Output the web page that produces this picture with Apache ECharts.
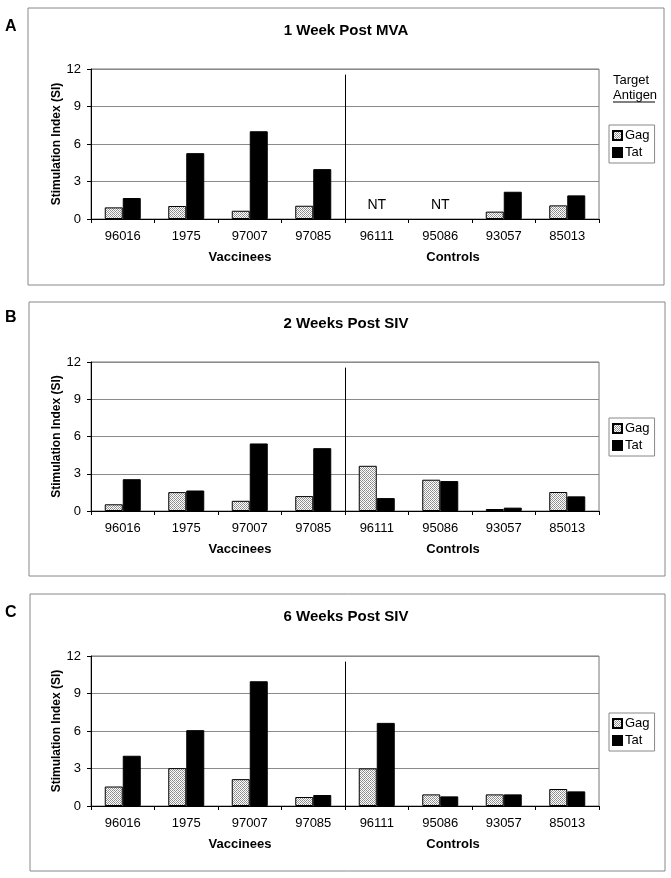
<!DOCTYPE html>
<html><head><meta charset="utf-8">
<script src="https://cdn.jsdelivr.net/npm/echarts@6/dist/echarts.min.js"></script>
<style>html,body{margin:0;padding:0;background:#fff}#c{width:671px;height:878px}</style>
</head><body><div id="c"></div>
<script>
const categories = ['96016','1975','97007','97085','96111','95086','93057','85013'];
const yTicks = [0, 3, 6, 9, 12];
const panelLetters = ['A','B','C'];
const panelTitles = ['1 Week Post MVA','2 Weeks Post SIV','6 Weeks Post SIV'];
const seriesNames = ['Gag','Tat'];
const groupNames = ['Vaccinees','Controls'];
const gagA = [0.93, 1.04, 0.66, 1.06, null, null, 0.59, 1.09];
const tatA = [1.68, 5.27, 7.02, 3.99, null, null, 2.18, 1.89];
const gagB = [0.54, 1.52, 0.82, 1.2, 3.64, 2.52, 0.16, 1.53];
const tatB = [2.56, 1.65, 5.44, 5.06, 1.04, 2.41, 0.27, 1.18];
const gagC = [1.56, 3.03, 2.15, 0.72, 3.01, 0.93, 0.93, 1.36];
const tatC = [4.02, 6.07, 9.98, 0.88, 6.65, 0.77, 0.93, 1.17];
const ntCategories = ['96111','95086'];
const ntLevel = 1.1;
const separatorAfter = 4; // number of vaccinee categories

const FONT = 'Liberation Sans, Arial, sans-serif';
const gagData = [gagA, gagB, gagC];
const tatData = [tatA, tatB, tatC];

function hatch(){
  const c = document.createElement('canvas'); c.width = 4; c.height = 4;
  const g = c.getContext('2d');
  g.fillStyle = '#fff'; g.fillRect(0,0,4,4);
  g.fillStyle = '#8c8c8c';
  [[0,0],[1,1],[2,2],[3,3],[0,2],[1,1],[2,0],[3,3]].forEach(p=>g.fillRect(p[0],p[1],1,1));
  g.fillStyle = '#b0b0b0';
  [[1,3],[3,1]].forEach(p=>g.fillRect(p[0],p[1],1,1));
  return c;
}
const gagFill = {image: hatch(), repeat: 'repeat'};

// layout per panel
const panels = [
  {box:[28,8,636,277],  gridTop:69,  gridH:150, titleY:31,  letterY:27,  groupY:257, legendTop:125},
  {box:[29,302,636,274],gridTop:362, gridH:149, titleY:324, letterY:318, groupY:549, legendTop:418},
  {box:[30,594,635,277],gridTop:656, gridH:150, titleY:617, letterY:613, groupY:844, legendTop:713}
];
const gridLeft = 91, gridW = 508;

const grid=[], xAxis=[], yAxis=[], series=[], legend=[], graphic=[];
panels.forEach((p,i)=>{
  grid.push({left:gridLeft, top:p.gridTop, width:gridW, height:p.gridH, show:true, borderColor:'#777', borderWidth:1, backgroundColor:'transparent'});
  xAxis.push({gridIndex:i, type:'category', data:categories, boundaryGap:true,
    axisLine:{lineStyle:{color:'#000', width:1}},
    axisTick:{show:true, length:4, alignWithLabel:false, lineStyle:{color:'#000'}},
    axisLabel:{color:'#000', fontFamily:FONT, fontSize:13, margin:11, interval:0},
    splitLine:{show:false}});
  xAxis.push({gridIndex:i, type:'value', min:0, max:categories.length, show:false});
  yAxis.push({gridIndex:i, type:'value', min:yTicks[0], max:yTicks[yTicks.length-1], interval:yTicks[1]-yTicks[0],
    name:'Stimulation Index (SI)', nameLocation:'middle', nameGap:28, nameRotate:90, nameMoveOverlap:false,
    nameTextStyle:{color:'#000', fontFamily:FONT, fontSize:12, fontWeight:'bold'},
    axisLine:{show:true, lineStyle:{color:'#000'}},
    axisTick:{show:true, length:4, lineStyle:{color:'#000'}},
    axisLabel:{color:'#000', fontFamily:FONT, fontSize:13, margin:10},
    splitLine:{show:true, lineStyle:{color:'#8a8a8a', width:1}}});
  series.push({type:'bar', name:seriesNames[0], xAxisIndex:2*i, yAxisIndex:i, data:gagData[i],
    barWidth:18, barGap:'0%', itemStyle:{color:gagFill, borderColor:'#000', borderWidth:1}, silent:true});
  series.push({type:'bar', name:seriesNames[1], xAxisIndex:2*i, yAxisIndex:i, data:tatData[i],
    barWidth:18, barGap:'0%', itemStyle:{color:'#000', borderColor:'#000', borderWidth:1}, silent:true});
  series.push({type:'line', name:'sep', xAxisIndex:2*i+1, yAxisIndex:i, data:[], silent:true,
    markLine:{silent:true, symbol:['none','none'], label:{show:false},
      lineStyle:{color:'#000', width:1, type:'solid'},
      data:[[{coord:[separatorAfter, 11.55]},{coord:[separatorAfter, 0]}]]}});
  if (i===0) {
    series.push({type:'scatter', name:'NT', xAxisIndex:0, yAxisIndex:0, symbolSize:0, silent:true,
      itemStyle:{opacity:1},
      data: ntCategories.map(c=>[c, ntLevel]),
      label:{show:true, position:'inside', formatter:'NT', color:'#000', opacity:1, fontFamily:FONT, fontSize:14}});
  }
  legend.push({data:seriesNames.map(n=>({name:n})), orient:'vertical', left:609, top:p.legendTop,
    itemWidth:9, itemHeight:9, itemGap:4, padding:[4,5,4,3], borderColor:'#888', borderWidth:1,
    icon:'rect', selectedMode:false,
    textStyle:{color:'#000', fontFamily:FONT, fontSize:13, padding:[0,0,0,-2]}});
  const b = p.box;
  graphic.push({type:'rect', shape:{x:b[0], y:b[1], width:b[2], height:b[3]}, style:{fill:'none', stroke:'#888', lineWidth:1}, silent:true});
  graphic.push({type:'text', x:5, y:p.letterY, style:{text:panelLetters[i], font:'bold 16px '+FONT, fill:'#000', textVerticalAlign:'middle'}});
  graphic.push({type:'text', x:346, y:p.titleY, style:{text:panelTitles[i], font:'bold 15px '+FONT, fill:'#000', textAlign:'center', textVerticalAlign:'middle'}});
  graphic.push({type:'text', x:240, y:p.groupY, style:{text:groupNames[0], font:'bold 13px '+FONT, fill:'#000', textAlign:'center', textVerticalAlign:'middle'}});
  graphic.push({type:'text', x:453, y:p.groupY, style:{text:groupNames[1], font:'bold 13px '+FONT, fill:'#000', textAlign:'center', textVerticalAlign:'middle'}});
});
graphic.push({type:'text', x:613, y:80, style:{text:'Target', font:'13px '+FONT, fill:'#000', textVerticalAlign:'middle'}});
graphic.push({type:'text', x:613, y:95, style:{text:'Antigen', font:'13px '+FONT, fill:'#000', textVerticalAlign:'middle'}});
graphic.push({type:'line', shape:{x1:613, y1:102, x2:655, y2:102}, style:{stroke:'#000', lineWidth:1}});

const chart = echarts.init(document.getElementById('c'), null, {renderer:'canvas'});
chart.setOption({animation:false, backgroundColor:'#fff', grid, xAxis, yAxis, series, legend, graphic});
</script></body></html>
